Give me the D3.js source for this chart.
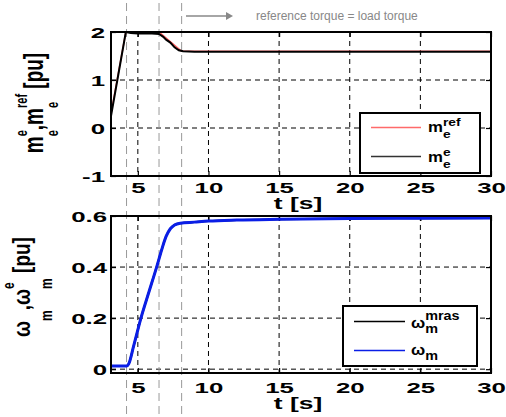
<!DOCTYPE html>
<html>
<head>
<meta charset="utf-8">
<script src="https://cdn.jsdelivr.net/npm/d3@7"></script>
<style>
  body { margin: 0; background: #fff; }
  svg text { font-family: "Liberation Sans", Arial, sans-serif; }
</style>
</head>
<body>
<div id="vis"></div>
<script>
// ---- data ----
const xTicks = [5, 10, 15, 20, 25, 30];
const torqueTicks = [-1, 0, 1, 2];
const speedTicks = [0, 0.2, 0.4, 0.6];
const markerTimes = [4.2, 6.5, 8.1];   // grey dashed event lines

// torque reference (red) and electromagnetic torque (black)
const tRef  = [3.1, 4.15, 6.5, 8.1, 30];
const mRef  = [0.3, 2.0, 2.0, 1.6, 1.6];
const tElec = [3.1, 4.15, 4.5, 5, 6, 6.5, 6.8, 7.0, 7.3, 7.6, 7.9, 8.2, 9, 30];
const mElec = [0.25, 2.0, 1.98, 1.97, 1.97, 1.96, 1.9, 1.84, 1.78, 1.68, 1.62, 1.6, 1.59, 1.59];

// speed: mras estimate (black) and measured (blue)
const tSpeed = [3.1, 4.2, 4.35, 4.7, 5.22, 5.8, 6.33, 6.7, 7.0, 7.3, 7.6, 8.0, 9, 10, 12, 15, 20, 25, 30];
const wMras  = [0.012, 0.012, 0.02, 0.09, 0.2, 0.305, 0.4, 0.47, 0.52, 0.55, 0.565, 0.572, 0.576, 0.58, 0.584, 0.587, 0.59, 0.591, 0.592];
const wMeas  = [0.012, 0.012, 0.02, 0.09, 0.2, 0.305, 0.4, 0.47, 0.52, 0.55, 0.565, 0.572, 0.576, 0.58, 0.584, 0.587, 0.59, 0.591, 0.592];

// ---- layout ----
const W = 506, H = 417;
const plotLeft = 111, plotRight = 491;
const tickScale = 1.78;   // plot fonts are drawn wide

const svg = d3.select('#vis').append('svg')
  .attr('width', W).attr('height', H);

const x = d3.scaleLinear().domain([3.1, 30]).range([plotLeft, plotRight]);
const yTorque = d3.scaleLinear().domain([-1, 2]).range([176, 32]);
const ySpeed = d3.scaleLinear().domain([-0.015, 0.6]).range([373, 216]);

// lays out main text with stacked sub/superscripts, returns width
function rich(parent, parts, opt) {
  const g = parent.append('g');
  let cursor = 0, scriptStart = null, scriptW = 0;
  parts.forEach(([s, kind]) => {
    const fs = kind === 'n' ? opt.size : opt.small;
    const dy = kind === 'sup' ? -opt.up : kind === 'sub' ? opt.down : 0;
    let pos;
    if (kind === 'n') {
      if (scriptStart !== null) { cursor = scriptStart + scriptW; scriptStart = null; }
      pos = cursor;
    } else {
      if (scriptStart === null) { scriptStart = cursor; scriptW = 0; }
      pos = scriptStart;
    }
    const t = g.append('text')
      .attr('x', pos).attr('y', dy)
      .attr('font-size', fs)
      .attr('font-weight', 'bold')
      .attr('fill', '#000')
      .style('white-space', 'pre')
      .text(s);
    const w = t.node().getComputedTextLength();
    if (kind === 'n') cursor += w; else scriptW = Math.max(scriptW, w);
  });
  if (scriptStart !== null) cursor = scriptStart + scriptW;
  return { g, width: cursor };
}

function drawPanel(y, yTicks, yFmt, yLabelPad, xLabelY, clipId) {
  const top = y.range()[1], bottom = y.range()[0];
  const panel = svg.append('g');

  svg.append('clipPath').attr('id', clipId)
    .append('rect')
    .attr('x', plotLeft).attr('y', top)
    .attr('width', plotRight - plotLeft).attr('height', bottom - top);

  // grid
  panel.append('g').selectAll('line.vg')
    .data(xTicks.filter(d => d < 30))
    .join('line')
    .attr('x1', d => x(d)).attr('x2', d => x(d))
    .attr('y1', top).attr('y2', bottom)
    .attr('stroke', '#000').attr('stroke-width', 1)
    .attr('stroke-dasharray', '5,4');
  panel.append('g').selectAll('line.hg')
    .data(yTicks)
    .join('line')
    .attr('x1', plotLeft).attr('x2', plotRight)
    .attr('y1', d => y(d)).attr('y2', d => y(d))
    .attr('stroke', '#000').attr('stroke-width', 1)
    .attr('stroke-dasharray', '5,4');

  // inward ticks on all four sides
  const bAx = panel.append('g').attr('transform', `translate(0,${bottom})`)
    .call(d3.axisBottom(x).tickValues(xTicks).tickSize(-5));
  panel.append('g').attr('transform', `translate(0,${top})`)
    .call(d3.axisTop(x).tickValues(xTicks).tickSize(-5).tickFormat(''));
  const lAx = panel.append('g').attr('transform', `translate(${plotLeft},0)`)
    .call(d3.axisLeft(y).tickValues(yTicks).tickSize(-5).tickFormat(yFmt));
  panel.append('g').attr('transform', `translate(${plotRight},0)`)
    .call(d3.axisRight(y).tickValues(yTicks).tickSize(-5).tickFormat(''));
  panel.selectAll('.domain').remove();
  panel.selectAll('.tick line').attr('stroke', '#000').attr('stroke-width', 1.2);

  bAx.selectAll('text')
    .attr('y', xLabelY).attr('dy', null)
    .attr('font-size', 14.5).attr('font-weight', 'bold')
    .attr('font-family', '"Liberation Sans", Arial, sans-serif')
    .attr('fill', '#000')
    .attr('transform', `scale(${tickScale},1)`);
  lAx.selectAll('text')
    .attr('x', -yLabelPad / tickScale).attr('dy', '0.36em')
    .attr('font-size', 14.5).attr('font-weight', 'bold')
    .attr('font-family', '"Liberation Sans", Arial, sans-serif')
    .attr('fill', '#000')
    .attr('transform', `scale(${tickScale},1)`);

  return { panel, top, bottom };
}

// grey dashed event markers
const markerG = svg.append('g');

const pTop = drawPanel(yTorque, torqueTicks, d => d, 6, 17, 'clipTop');
const pBot = drawPanel(ySpeed, speedTicks, d => (d === 0 ? '0' : d3.format('.1f')(d)), 4, 20, 'clipBot');

markerG.selectAll('line')
  .data(markerTimes)
  .join('line')
  .attr('x1', d => x(d)).attr('x2', d => x(d))
  .attr('y1', 3).attr('y2', H)
  .attr('stroke', '#999').attr('stroke-width', 1)
  .attr('stroke-dasharray', '8,5');
svg.node().appendChild(markerG.node());

// ---- data lines ----
const torqueLine = d3.line()
  .x(d => x(d[0])).y(d => yTorque(d[1]));
const speedLine = d3.line()
  .x(d => x(d[0])).y(d => ySpeed(d[1]))
  .curve(d3.curveMonotoneX);

svg.append('path')
  .datum(d3.zip(tRef, mRef))
  .attr('clip-path', 'url(#clipTop)')
  .attr('d', torqueLine)
  .attr('fill', 'none').attr('stroke', '#ff6060').attr('stroke-width', 1.5);
svg.append('path')
  .datum(d3.zip(tElec, mElec))
  .attr('clip-path', 'url(#clipTop)')
  .attr('d', torqueLine)
  .attr('fill', 'none').attr('stroke', '#000').attr('stroke-width', 2);

svg.append('path')
  .datum(d3.zip(tSpeed, wMras))
  .attr('clip-path', 'url(#clipBot)')
  .attr('d', speedLine)
  .attr('fill', 'none').attr('stroke', '#000').attr('stroke-width', 2);
svg.append('path')
  .datum(d3.zip(tSpeed, wMeas))
  .attr('clip-path', 'url(#clipBot)')
  .attr('d', speedLine)
  .attr('fill', 'none').attr('stroke', '#0a1ee6').attr('stroke-width', 3);

// frames
[pTop, pBot].forEach(p => {
  svg.append('rect')
    .attr('x', plotLeft).attr('y', p.top)
    .attr('width', plotRight - plotLeft).attr('height', p.bottom - p.top)
    .attr('fill', 'none').attr('stroke', '#000').attr('stroke-width', 2);
});

// x axis titles
[209, 409].forEach(yy => {
  svg.append('text')
    .attr('transform', `translate(298,${yy}) scale(1.65,1)`)
    .attr('text-anchor', 'middle')
    .attr('font-size', 16).attr('font-weight', 'bold')
    .text('t [s]');
});

// y axis titles (rotated, with sub/superscripts)
function yTitle(cx, cy, sy, parts, opt) {
  const g = svg.append('g')
    .attr('transform', `translate(${cx},${cy}) rotate(-90) scale(1,${sy})`);
  const r = rich(g, parts, opt);
  r.g.attr('transform', `translate(${-r.width / 2},0)`);
}
yTitle(43, 103, 1.5,
  [['m', 'n'], ['e', 'sup'], ['e', 'sub'], [',m', 'n'], ['ref', 'sup'], ['e', 'sub'], [' [pu]', 'n']],
  { size: 19, small: 11, up: 10.7, down: 10 });
yTitle(30, 287, 1.3,
  [['ω', 'n'], ['m', 'sub'], [',ω', 'n'], ['e', 'sup'], ['m', 'sub'], [' [pu]', 'n']],
  { size: 19, small: 12, up: 12, down: 17 });

// ---- legends ----
function legend(bx, by, bw, bh, entries, opt) {
  svg.append('rect')
    .attr('x', bx).attr('y', by).attr('width', bw).attr('height', bh)
    .attr('fill', '#fff').attr('stroke', '#000').attr('stroke-width', 2);
  entries.forEach(e => {
    svg.append('line')
      .attr('x1', bx + 11).attr('x2', bx + 11 + opt.lineLen)
      .attr('y1', e.ly).attr('y2', e.ly)
      .attr('stroke', e.color).attr('stroke-width', 1.5);
    const g = svg.append('g')
      .attr('transform', `translate(${opt.tx},${e.ty}) scale(1.2,1)`);
    rich(g, e.parts, opt);
  });
}
legend(360, 113, 120, 60, [
  { color: '#ff6a6a', ly: 127.5, ty: 132, parts: [['m', 'n'], ['ref', 'sup'], ['e', 'sub']] },
  { color: '#333', ly: 156.5, ty: 162, parts: [['m', 'n'], ['e', 'sup'], ['e', 'sub']] }
], { lineLen: 50, tx: 428, size: 14, small: 11.5, up: 6, down: 6 });
legend(343, 306, 134, 60, [
  { color: '#000', ly: 321.5, ty: 328, parts: [['ω', 'n'], ['mras', 'sup'], ['m', 'sub']] },
  { color: '#0a1ee6', ly: 350.5, ty: 355, parts: [['ω', 'n'], ['m', 'sub']] }
], { lineLen: 51, tx: 411, size: 14, small: 12, up: 8, down: 5 });

// ---- annotation arrow at top ----
svg.append('line')
  .attr('x1', 186).attr('x2', 227).attr('y1', 16).attr('y2', 16)
  .attr('stroke', '#888').attr('stroke-width', 1.5);
svg.append('path')
  .attr('d', 'M226,12L233,16L226,20Z')
  .attr('fill', '#888');
svg.append('text')
  .attr('x', 256).attr('y', 20)
  .attr('font-size', 12).attr('fill', '#888')
  .text('reference torque = load torque');
</script>
</body>
</html>
